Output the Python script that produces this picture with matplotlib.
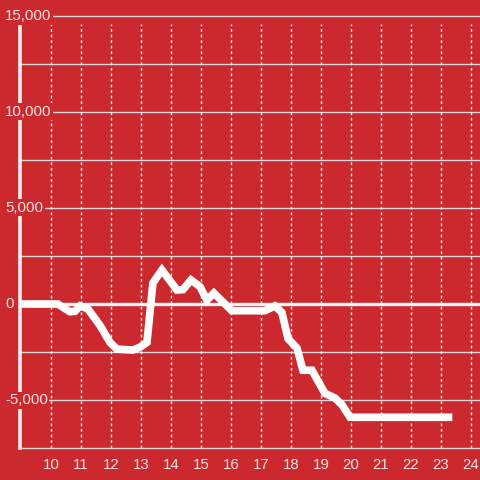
import matplotlib
matplotlib.use("Agg")
import matplotlib.pyplot as plt
import matplotlib.transforms as mtransforms

hours = [9.0, 10.23, 10.63, 10.8, 10.97, 11.23, 11.63, 11.97, 12.2, 12.73, 12.97, 13.2,
         13.4, 13.7, 14.2, 14.4, 14.67, 14.97, 15.2, 15.43, 16.03, 17.13, 17.47,
         17.7, 17.9, 18.2, 18.4, 18.7, 19.13, 19.47, 19.7, 19.97, 23.25]
values = [0, 0, -400, -380, -100, -250, -1100, -2000, -2350, -2400, -2250, -2000,
          1100, 1770, 730, 750, 1250, 900, 200, 570, -350, -350, -100,
          -450, -1800, -2300, -3450, -3450, -4650, -4900, -5250, -5900, -5900]
x_ticks = list(range(10, 25))
y_labels = [-5000, 0, 5000, 10000, 15000]
y_grid = [-5000, -2500, 2500, 5000, 7500, 10000, 12500, 15000]

bg = "#cc292f"
txt = "#f2e4e4"

fig = plt.figure(figsize=(4.8, 4.8), dpi=100, facecolor=bg)
ax = fig.add_axes([20 / 480, 32 / 480, 460 / 480, 432 / 480], facecolor=bg)
ax.set_xlim(8.97, 24.3)
ax.set_ylim(-7500, 15000)

for y in y_grid:
    ax.axhline(y, color="#d8d8d8", lw=1, zorder=1, clip_on=False)
ax.vlines(x_ticks, -7500, 14580, colors="#f0f0f0", lw=1, linestyles=(0, (2, 2)), zorder=1)
ax.axhline(0, color="#f4f4f4", lw=2.4, zorder=2)

ax.plot(hours, values, color="white", lw=5.5, zorder=3, solid_joinstyle="miter")

for s in ["top", "right"]:
    ax.spines[s].set_visible(False)
ax.spines["left"].set_color("#eeeeee")
ax.spines["left"].set_linewidth(2.6)
ax.spines["left"].set_bounds(-7500, 14580)
ax.spines["left"].set_zorder(2)
ax.spines["bottom"].set_color("#d8d8d8")
ax.spines["bottom"].set_linewidth(1)

ax.set_xticks(x_ticks)
ax.set_xticklabels([str(t) for t in x_ticks])
ax.set_yticks([])
ax.tick_params(axis="x", length=0, pad=7, labelsize=10.8, labelcolor=txt)
for lab in ax.get_xticklabels():
    lab.set_fontfamily("Liberation Sans")

trans = mtransforms.blended_transform_factory(fig.transFigure, ax.transData)
for v in y_labels:
    ax.text(5 / 480, v, f"{v:,}", transform=trans, ha="left", va="center",
            fontsize=10.8, color=txt, family="Liberation Sans", zorder=5,
            bbox=dict(boxstyle="square,pad=0.1", fc=bg, ec="none"))

fig.savefig("out.png", dpi=100, facecolor=bg)
